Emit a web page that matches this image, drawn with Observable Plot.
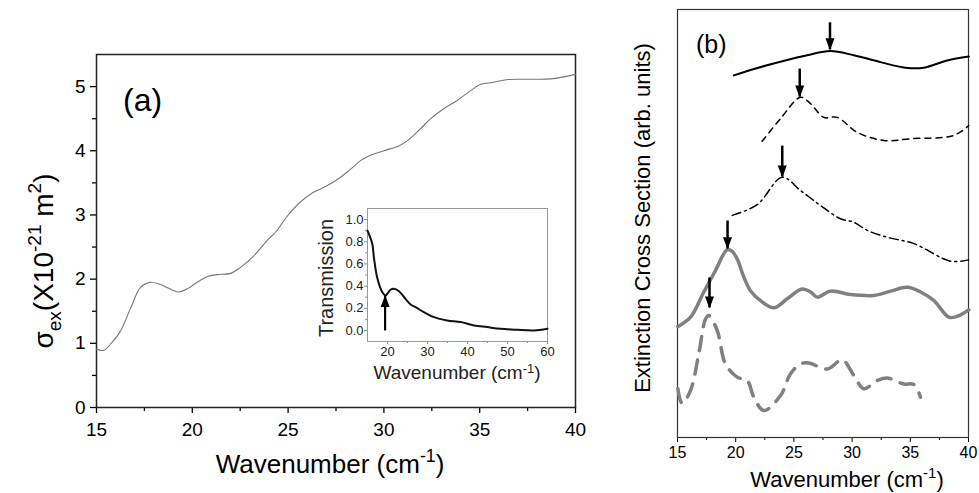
<!DOCTYPE html>
<html><head><meta charset="utf-8">
<script src="https://cdn.jsdelivr.net/npm/d3@7"></script>
<script src="https://cdn.jsdelivr.net/npm/@observablehq/plot@0.6"></script>
<style>
body{margin:0;background:#fff;}
#wrap{position:relative;width:979px;height:493px;overflow:hidden;background:#fff;}
#wrap svg{position:absolute;overflow:visible;}
</style></head><body><div id="wrap"></div>
<script>
// ---------- Panel (a): extinction cross section ----------
const waveA  = [15,15.38,15.8,16.25,16.8,17.3,17.8,18.3,18.9,19.3,19.8,20.25,20.8,21.3,22.0,22.5,23.2,23.9,24.4,24.9,25.6,26.3,27.0,27.7,28.25,28.8,29.3,30.0,30.8,31.2,31.9,32.4,33.1,33.8,34.5,35.0,35.6,36.5,37.5,38.7,40];
const sigmaA = [0.91,0.89,1.01,1.19,1.56,1.87,1.95,1.92,1.84,1.80,1.86,1.95,2.04,2.07,2.09,2.18,2.36,2.60,2.75,2.96,3.19,3.35,3.45,3.58,3.71,3.85,3.93,4.00,4.08,4.15,4.34,4.49,4.65,4.78,4.93,5.03,5.06,5.11,5.115,5.12,5.19];
const ticksAx = [15,20,25,30,35,40];
const minorAx = [17.5,22.5,27.5,32.5,37.5];
const ticksAy = [0,1,2,3,4,5];
const minorAy = [0.5,1.5,2.5,3.5,4.5];

// ---------- Inset: transmission ----------
const waveT  = [15,16.2,16.6,17.4,18.7,19.5,20.75,21.6,22.8,24.5,25.75,27.0,29.1,31.6,34.9,38.3,41.6,44.9,48.3,52.4,56.6,60];
const transT = [0.90,0.78,0.66,0.48,0.345,0.315,0.367,0.375,0.355,0.285,0.234,0.21,0.165,0.12,0.09,0.075,0.045,0.03,0.015,0.006,0.0,0.015];
const ticksTx = [20,30,40,50,60];
const minorTx = [25,35,45,55];
const ticksTy = [0,0.2,0.4,0.6,0.8,1.0];
const minorTy = [0.1,0.3,0.5,0.7,0.9];
const arrowT = [{x:19.4, from:0.0, tip:0.31}];

// ---------- Panel (b): extinction spectra (arb. units, offset) ----------
const wave1 = [19.84,21.56,24.42,26.14,28.14,30.15,32.44,34.59,36.16,38.17,40.03];
const ext1  = [8.46,8.61,8.82,8.93,9.03,8.93,8.77,8.64,8.64,8.81,8.90];
const wave2 = [22.27,23.85,25.57,26.43,27.57,28.72,30.44,32.72,35.02,38.74,40.03];
const ext2  = [6.92,7.45,7.95,7.80,7.48,7.48,7.13,6.94,6.98,7.06,7.29];
const wave3 = [19.70,21.85,24.0,25.57,27.29,29.0,30.15,31.3,33.0,35.3,38.45,40.0];
const ext3  = [5.19,5.44,6.08,5.77,5.42,5.11,5.03,4.84,4.68,4.53,4.12,4.15];
const wave4 = [15.03,16.12,17.26,18.26,19.27,19.70,20.13,20.70,21.27,22.13,23.28,24.42,25.71,26.43,27.0,28.14,29.86,31.86,33.30,34.73,35.88,37.02,38.31,39.03,40.03];
const ext4  = [2.59,2.81,3.40,3.90,4.39,4.35,4.17,3.75,3.43,3.20,3.03,3.24,3.47,3.40,3.28,3.42,3.34,3.32,3.42,3.51,3.40,3.20,2.81,2.83,2.98];
const wave5 = [15.03,15.40,16.12,16.83,17.41,17.69,18.41,19.12,20.13,20.99,21.56,22.42,23.85,24.71,25.57,26.28,27.86,29.15,30.15,31.0,32.15,33.0,34.44,35.3,35.88];
const ext5  = [1.14,0.80,1.10,1.96,2.77,2.85,2.50,1.72,1.41,1.33,0.94,0.63,0.98,1.49,1.72,1.74,1.60,1.81,1.45,1.14,1.33,1.39,1.25,1.24,0.94];
const peakWave = [28.1,25.5,24.0,19.3,17.75];
const peakTop  = [9.70,8.62,6.82,5.07,3.74];
const peakTip  = [9.07,7.97,6.10,4.42,3.04];
const ticksBx = [15,20,25,30,35,40];
const minorBx = [17.5,22.5,27.5,32.5,37.5];

// ---------- helpers ----------
const FONT = '"Liberation Sans", Arial, Helvetica, sans-serif';
const zip = (xs, ys) => xs.map((x, i) => ({x, y: ys[i]}));
const headDown = {draw(ctx){ ctx.moveTo(0, 1); ctx.lineTo(-4.5, -11); ctx.lineTo(4.5, -11); ctx.closePath(); }};
const headUp   = {draw(ctx){ ctx.moveTo(0, -1); ctx.lineTo(-4.5, 11); ctx.lineTo(4.5, 11); ctx.closePath(); }};
const baseStyle = {fontFamily: FONT, color: "#000", background: "transparent", overflow: "visible"};
const blank = () => "";
const intFmt = d3.format("d");

// ---------- Panel (a) ----------
const plotA = Plot.plot({
  width: 600, height: 493,
  marginLeft: 96, marginRight: 25, marginTop: 54, marginBottom: 86,
  x: {domain: [15, 40]}, y: {domain: [0, 5.5]},
  style: baseStyle,
  marks: [
    Plot.axisX({ticks: ticksAx, tickSize: 6, tickPadding: 9, fontSize: 19, tickFormat: intFmt, label: null, strokeWidth: 1.3}),
    Plot.axisX({ticks: minorAx, tickSize: 4, tickFormat: blank, label: null, strokeWidth: 1.3}),
    Plot.axisY({ticks: ticksAy, tickSize: 6, tickPadding: 5, fontSize: 19, tickFormat: intFmt, label: null, strokeWidth: 1.3}),
    Plot.axisY({ticks: minorAy, tickSize: 4, tickFormat: blank, label: null, strokeWidth: 1.3}),
    Plot.frame({stroke: "#222", strokeWidth: 1.5}),
    Plot.line(zip(waveA, sigmaA), {x: "x", y: "y", stroke: "#777", strokeWidth: 1.1, curve: "catmull-rom"})
  ]
});

// ---------- Inset ----------
const plotT = Plot.plot({
  width: 260, height: 200,
  marginLeft: 67, marginRight: 13, marginTop: 8, marginBottom: 59,
  x: {domain: [15, 60]}, y: {domain: [-0.1, 1.1]},
  style: baseStyle,
  marks: [
    Plot.axisX({ticks: ticksTx, tickSize: 3, tickPadding: 2, fontSize: 13, tickFormat: intFmt, label: null, stroke: "#888", fill: "#222"}),
    Plot.axisX({ticks: minorTx, tickSize: 2, tickFormat: blank, label: null, stroke: "#888"}),
    Plot.axisY({ticks: ticksTy, tickSize: 3, tickPadding: 1, fontSize: 13, tickFormat: d3.format(".1f"), label: null, stroke: "#888", fill: "#222"}),
    Plot.axisY({ticks: minorTy, tickSize: 2, tickFormat: blank, label: null, stroke: "#888"}),
    Plot.frame({stroke: "#999", strokeWidth: 1}),
    Plot.line(zip(waveT, transT), {x: "x", y: "y", stroke: "#111", strokeWidth: 2, curve: "catmull-rom"}),
    Plot.link(arrowT, {x1: "x", x2: "x", y1: "from", y2: "tip", stroke: "#000", strokeWidth: 2.2}),
    Plot.dot(arrowT, {x: "x", y: "tip", symbol: headUp, fill: "#000", stroke: "none"})
  ]
});

// ---------- Panel (b) ----------
const arrowsB = peakWave.map((x, i) => ({x, top: peakTop[i], tip: peakTip[i]}));
const plotB = Plot.plot({
  width: 379, height: 493,
  marginLeft: 77, marginRight: 11, marginTop: 9, marginBottom: 56,
  x: {domain: [15, 40]}, y: {domain: [0, 10], axis: null},
  style: baseStyle,
  marks: [
    Plot.axisX({ticks: ticksBx, tickSize: 5, tickPadding: 4, fontSize: 16, tickFormat: intFmt, label: null}),
    Plot.axisX({ticks: minorBx, tickSize: 3, tickFormat: blank, label: null}),
    Plot.frame({stroke: "#333", strokeWidth: 1.2}),
    Plot.line(zip(wave1, ext1), {x: "x", y: "y", stroke: "#000", strokeWidth: 2, curve: "catmull-rom"}),
    Plot.line(zip(wave2, ext2), {x: "x", y: "y", stroke: "#000", strokeWidth: 1.5, strokeDasharray: "6,5", curve: "catmull-rom"}),
    Plot.line(zip(wave3, ext3), {x: "x", y: "y", stroke: "#000", strokeWidth: 1.5, strokeDasharray: "9,4,2,4", curve: "catmull-rom"}),
    Plot.line(zip(wave4, ext4), {x: "x", y: "y", stroke: "#808080", strokeWidth: 3.5, curve: "catmull-rom"}),
    Plot.line(zip(wave5, ext5), {x: "x", y: "y", stroke: "#808080", strokeWidth: 3.5, strokeDasharray: "14,10", curve: "catmull-rom"}),
    Plot.link(arrowsB, {x1: "x", x2: "x", y1: "top", y2: "tip", stroke: "#000", strokeWidth: 2.5}),
    Plot.dot(arrowsB, {x: "x", y: "tip", symbol: headDown, fill: "#000", stroke: "none"})
  ]
});

const wrap = document.getElementById("wrap");
function place(el, left, top) { el.style.left = left + "px"; el.style.top = top + "px"; wrap.appendChild(el); }
place(plotA, 0, 0);
place(plotT, 300, 200);
place(plotB, 600, 0);

// ---------- text labels (overlay) ----------
const overlay = d3.select(wrap).append("svg")
  .attr("width", 979).attr("height", 493)
  .style("left", "0px").style("top", "0px").style("pointer-events", "none");

function richText(o) {
  const t = overlay.append("text")
    .attr("transform", `translate(${o.x},${o.y}) rotate(${o.rotate || 0})`)
    .attr("text-anchor", o.anchor || "middle")
    .attr("font-size", o.size)
    .attr("font-family", FONT)
    .attr("fill", o.fill || "#000");
  const up = o.supShift != null ? o.supShift : 0.42;
  let shift = 0;
  for (const [s, k] of o.parts) {
    const target = k === "sup" ? -up * o.size : k === "sub" ? 0.28 * o.size : 0;
    const ts = t.append("tspan").text(s).attr("dy", target - shift);
    if (k) ts.attr("font-size", o.size * 0.68);
    shift = target;
  }
}

richText({x: 53, y: 261, rotate: -90, size: 28, parts: [["σ"], ["ex", "sub"], ["(X10"], ["-21", "sup"], [" m"], ["2", "sup"], [")"]]});
richText({x: 330, y: 473, size: 26, parts: [["Wavenumber (cm"], ["-1", "sup"], [")"]]});
richText({x: 123, y: 111, size: 32, anchor: "start", parts: [["(a)"]]});
richText({x: 333, y: 278, rotate: -90, size: 20, fill: "#222", parts: [["Transmission"]]});
richText({x: 457, y: 379, size: 19, fill: "#222", supShift: 0.3, parts: [["Wavenumber (cm"], ["-1", "sup"], [")"]]});
richText({x: 650, y: 218, rotate: -90, size: 22, parts: [["Extinction Cross Section (arb. units)"]]});
richText({x: 847, y: 487, size: 22, parts: [["Wavenumber (cm"], ["-1", "sup"], [")"]]});
richText({x: 696, y: 53, size: 25, anchor: "start", parts: [["(b)"]]});
</script>
</body></html>
